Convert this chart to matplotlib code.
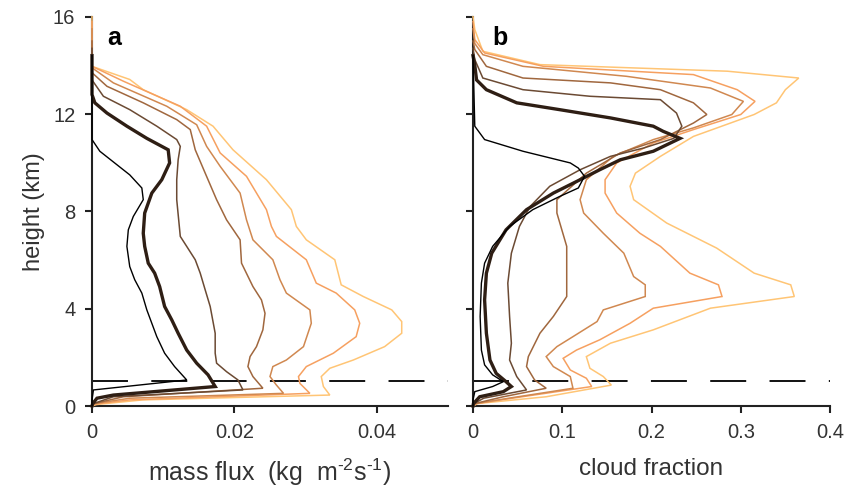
import matplotlib
matplotlib.use("Agg")
import matplotlib.pyplot as plt

plt.rcParams['font.family'] = ['Liberation Sans', 'DejaVu Sans']
plt.rcParams['mathtext.fontset'] = 'custom'
plt.rcParams['mathtext.rm'] = 'Liberation Sans'
plt.rcParams['mathtext.it'] = 'Liberation Sans:italic'
plt.rcParams['mathtext.default'] = 'regular'

colors = ['#000000', '#2E1E14', '#6B4A33', '#A0673E', '#D08850', '#F6A060', '#FFC575']
widths = [1.0, 2.4, 1.1, 1.1, 1.1, 1.1, 1.1]

# ---- panel a: mass flux (kg m-2 s-1) vs height (km) ----
mf_h1 = [0, 0.25, 0.66, 1.07, 1.62, 2.17, 2.85, 3.40, 3.95, 4.64, 5.19, 5.73, 6.56, 7.24, 7.79, 8.48, 8.96, 9.5, 10.47, 10.95, 14.4]
mf_x1 = [0, 0, 0.0002, 0.0133, 0.0116, 0.0102, 0.0091, 0.0084, 0.0077, 0.007, 0.006, 0.0053, 0.0049, 0.0051, 0.0058, 0.0072, 0.007, 0.0053, 0.0011, 0, 0]

mf_h2 = [0, 0.1, 0.32, 0.45, 0.80, 1.28, 1.76, 2.30, 2.99, 3.54, 4.09, 4.91, 5.46, 5.87, 6.56, 7.1, 7.93, 8.75, 9.3, 9.99, 10.53, 11.0, 11.5, 12.04, 12.46, 12.8, 14.4]
mf_x2 = [0, 0.0001, 0.0007, 0.003, 0.0173, 0.0163, 0.0147, 0.0133, 0.0121, 0.0112, 0.0102, 0.0095, 0.0088, 0.0079, 0.0074, 0.0072, 0.0074, 0.0084, 0.0098, 0.0109, 0.0107, 0.0077, 0.0049, 0.0021, 0.0004, 0, 0]

mf_h3 = [0, 0.1, 0.38, 0.66, 1.07, 1.41, 1.76, 2.17, 2.99, 4.09, 4.77, 5.46, 6.01, 6.56, 6.97, 8.48, 9.3, 10.12, 10.67, 10.95, 11.5, 12.18, 12.73, 13.4, 14.7]
mf_x3 = [0, 0.0002, 0.003, 0.0212, 0.0205, 0.0189, 0.0175, 0.0173, 0.0173, 0.0166, 0.0159, 0.0152, 0.0145, 0.0133, 0.0124, 0.0119, 0.0119, 0.0121, 0.0124, 0.0119, 0.0091, 0.0053, 0.0016, 0, 0]

mf_h4 = [0, 0.1, 0.38, 0.73, 1.21, 1.62, 2.03, 2.44, 3.13, 3.81, 4.36, 4.91, 5.87, 6.83, 7.65, 8.48, 9.57, 10.53, 11.36, 11.77, 12.46, 13.14, 13.7, 15.0]
mf_x4 = [0, 0.0003, 0.0044, 0.024, 0.0226, 0.0219, 0.0222, 0.0231, 0.024, 0.0243, 0.0238, 0.0226, 0.021, 0.0208, 0.0189, 0.0175, 0.0159, 0.0145, 0.0138, 0.0119, 0.0072, 0.0021, 0, 0]

mf_h5 = [0, 0.1, 0.32, 0.52, 0.86, 1.21, 1.62, 1.89, 2.44, 3.40, 3.95, 4.64, 5.19, 6.01, 6.83, 7.65, 8.75, 9.85, 10.67, 11.56, 12.32, 13.28, 13.9, 15.5]
mf_x5 = [0, 0.0004, 0.0053, 0.0269, 0.0259, 0.025, 0.0254, 0.0273, 0.0297, 0.0308, 0.0306, 0.0273, 0.0264, 0.0254, 0.0226, 0.0217, 0.0208, 0.018, 0.0161, 0.0147, 0.0105, 0.003, 0, 0]

mf_h6 = [0, 0.08, 0.25, 0.52, 0.93, 1.21, 1.62, 2.17, 2.85, 3.40, 3.95, 4.64, 5.05, 6.01, 6.97, 7.38, 8.07, 9.44, 10.4, 11.5, 12.32, 13.35, 13.96, 15.8]
mf_x6 = [0, 0.0005, 0.0053, 0.0306, 0.0292, 0.029, 0.0301, 0.0339, 0.0371, 0.0376, 0.0369, 0.0343, 0.0315, 0.0301, 0.0259, 0.0252, 0.0245, 0.0217, 0.018, 0.0161, 0.0124, 0.0044, 0, 0]

mf_h7 = [0, 0.06, 0.25, 0.45, 0.80, 1.21, 1.55, 1.89, 2.44, 2.99, 3.47, 3.95, 4.5, 4.98, 6.01, 6.83, 7.38, 8.07, 9.3, 10.53, 11.5, 12.18, 13.0, 13.42, 13.96, 16.0]
mf_x7 = [0, 0.0006, 0.0071, 0.0334, 0.0325, 0.0322, 0.0334, 0.0367, 0.0411, 0.0435, 0.0435, 0.0421, 0.0381, 0.035, 0.0341, 0.0301, 0.0287, 0.028, 0.0245, 0.0198, 0.017, 0.0133, 0.0072, 0.0053, 0, 0]

# ---- panel b: cloud fraction vs height (km) ----
cf_h1 = [0, 0.25, 0.59, 0.8, 1.0, 1.28, 1.69, 2.30, 3.68, 5.05, 5.87, 6.56, 7.38, 8.07, 8.61, 8.96, 9.44, 9.78, 9.99, 10.47, 10.95, 11.5, 14.4]
cf_x1 = [0, 0, 0.002, 0.022, 0.034, 0.022, 0.013, 0.0094, 0.008, 0.0094, 0.013, 0.022, 0.041, 0.067, 0.097, 0.118, 0.125, 0.118, 0.109, 0.056, 0.013, 0.002, 0]

cf_h2 = [0, 0.1, 0.38, 0.59, 0.8, 1.0, 1.34, 1.89, 2.99, 4.36, 5.46, 6.28, 7.24, 8.07, 8.75, 9.3, 9.71, 10.12, 10.47, 11.0, 11.29, 11.5, 11.84, 12.18, 12.46, 13.0, 13.4, 14.0, 14.4]
cf_x2 = [0, 0.0005, 0.0075, 0.034, 0.043, 0.037, 0.026, 0.019, 0.015, 0.013, 0.015, 0.021, 0.037, 0.06, 0.09, 0.12, 0.142, 0.165, 0.202, 0.232, 0.213, 0.202, 0.154, 0.097, 0.049, 0.015, 0.004, 0.002, 0]

cf_h3 = [0, 0.1, 0.32, 0.66, 1.21, 1.89, 2.58, 3.68, 5.05, 6.28, 7.38, 8.2, 9.03, 9.71, 10.26, 10.6, 11.0, 11.5, 12.04, 12.59, 12.73, 13.0, 13.48, 14.24, 14.7]
cf_x3 = [0, 0.001, 0.012, 0.06, 0.049, 0.041, 0.043, 0.041, 0.039, 0.043, 0.052, 0.064, 0.086, 0.12, 0.154, 0.191, 0.225, 0.234, 0.228, 0.21, 0.131, 0.056, 0.011, 0.002, 0]

cf_h4 = [0, 0.1, 0.38, 0.73, 1.07, 1.62, 2.03, 2.99, 3.68, 4.5, 6.56, 7.93, 8.48, 9.57, 10.4, 10.95, 11.63, 11.98, 12.46, 13.0, 13.28, 13.48, 13.96, 14.65, 15.0]
cf_x4 = [0, 0.002, 0.034, 0.082, 0.069, 0.06, 0.062, 0.075, 0.09, 0.105, 0.105, 0.094, 0.094, 0.127, 0.165, 0.21, 0.247, 0.262, 0.247, 0.21, 0.154, 0.056, 0.015, 0.002, 0]

cf_h5 = [0, 0.1, 0.32, 0.73, 1.21, 1.62, 2.03, 2.44, 2.85, 3.47, 3.95, 4.5, 4.98, 5.32, 6.28, 7.1, 7.93, 8.48, 9.3, 10.26, 10.95, 11.43, 11.98, 12.52, 13.07, 13.55, 13.96, 14.44, 14.9, 15.5]
cf_x5 = [0, 0.003, 0.04, 0.112, 0.109, 0.09, 0.082, 0.094, 0.112, 0.139, 0.146, 0.193, 0.193, 0.18, 0.169, 0.146, 0.124, 0.12, 0.127, 0.157, 0.202, 0.247, 0.29, 0.303, 0.266, 0.172, 0.056, 0.011, 0.002, 0]

cf_h6 = [0, 0.1, 0.38, 0.8, 1.14, 1.48, 1.96, 2.30, 2.72, 3.4, 4.02, 4.5, 4.98, 5.46, 6.56, 7.1, 7.93, 8.75, 9.3, 9.99, 10.81, 11.36, 11.98, 12.52, 13.0, 13.62, 13.96, 14.51, 15.06, 15.8]
cf_x6 = [0, 0.004, 0.055, 0.133, 0.127, 0.109, 0.101, 0.116, 0.142, 0.176, 0.202, 0.279, 0.275, 0.243, 0.21, 0.187, 0.161, 0.148, 0.148, 0.161, 0.202, 0.247, 0.3, 0.316, 0.296, 0.247, 0.079, 0.013, 0.002, 0]

cf_h7 = [0, 0.1, 0.38, 0.86, 1.21, 1.55, 2.03, 2.58, 3.13, 4.02, 4.5, 4.98, 5.46, 6.49, 7.52, 8.48, 9.03, 9.57, 10.26, 11.08, 11.98, 12.46, 13.0, 13.48, 13.76, 14.03, 14.58, 15.47, 16.0]
cf_x7 = [0, 0.005, 0.082, 0.155, 0.146, 0.131, 0.127, 0.154, 0.202, 0.266, 0.36, 0.356, 0.315, 0.273, 0.217, 0.18, 0.176, 0.182, 0.21, 0.247, 0.315, 0.34, 0.35, 0.365, 0.285, 0.075, 0.011, 0.002, 0]

mf_profiles = [(mf_x1, mf_h1), (mf_x2, mf_h2), (mf_x3, mf_h3), (mf_x4, mf_h4),
               (mf_x5, mf_h5), (mf_x6, mf_h6), (mf_x7, mf_h7)]
cf_profiles = [(cf_x1, cf_h1), (cf_x2, cf_h2), (cf_x3, cf_h3), (cf_x4, cf_h4),
               (cf_x5, cf_h5), (cf_x6, cf_h6), (cf_x7, cf_h7)]

boundary_height = 1.04
y_ticks = [0, 4, 8, 12, 16]
a_xticks = [0, 0.02, 0.04]
a_xticklabels = ['0', '0.02', '0.04']
b_xticks = [0, 0.1, 0.2, 0.3, 0.4]
b_xticklabels = ['0', '0.1', '0.2', '0.3', '0.4']

fig = plt.figure(figsize=(8.49, 4.93), dpi=100)
axa = fig.add_axes([92/849, 1-406/493, (448-92)/849, (406-16.7)/493])
axb = fig.add_axes([473/849, 1-406/493, (830-473)/849, (406-16.7)/493])

axcol = '#222222'
txtcol = '#333333'

def style(ax, xmax, xticks, xlabels):
    ax.set_xlim(0, xmax)
    ax.set_ylim(0, 16)
    for s in ['top', 'right']:
        ax.spines[s].set_visible(False)
    for s in ['left', 'bottom']:
        ax.spines[s].set_linewidth(1.5)
        ax.spines[s].set_color(axcol)
    ax.set_yticks(y_ticks)
    ax.set_xticks(xticks)
    ax.set_xticklabels(xlabels)
    ax.tick_params(axis='both', direction='out', length=5, width=1.5, color=axcol,
                   labelsize=14.5, labelcolor=txtcol, pad=7)

for ax, profs, xmax, xt, xl in [(axa, mf_profiles, 0.05, a_xticks, a_xticklabels),
                                (axb, cf_profiles, 0.4, b_xticks, b_xticklabels)]:
    style(ax, xmax, xt, xl)
    ax.axhline(boundary_height, color='#111111', lw=1.4, linestyle=(0, (18.5, 12)), zorder=2)
    for i in reversed(range(7)):
        x, h = profs[i]
        ax.plot(x, h, color=colors[i], lw=widths[i], zorder=3 + (7 - i) * 0.1,
                clip_on=False, solid_joinstyle='miter')

axb.set_yticklabels([])
axa.set_ylabel('height (km)', fontsize=17, color=txtcol, labelpad=6)
axa.set_xlabel('mass flux  (kg  m$^{\\text{-2}}$s$^{\\text{-1}}$)', fontsize=18, color=txtcol, labelpad=11)
axb.set_xlabel('cloud fraction', fontsize=17.5, color=txtcol, labelpad=12)

axa.text(0.042, 0.975, 'a', transform=axa.transAxes, fontsize=18, fontweight='bold',
         color='black', va='top', ha='left')
axb.text(0.055, 0.975, 'b', transform=axb.transAxes, fontsize=18, fontweight='bold',
         color='black', va='top', ha='left')

fig.savefig('out.png', dpi=100)
